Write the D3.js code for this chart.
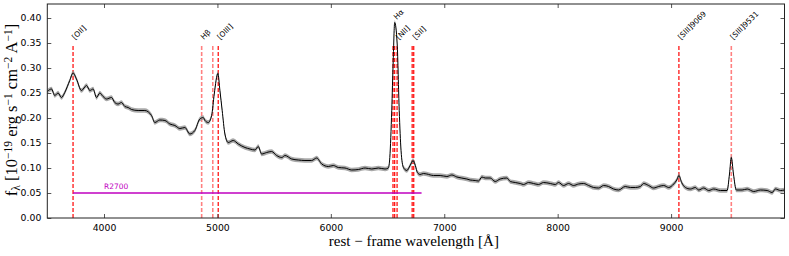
<!DOCTYPE html>
<html>
<head>
<meta charset="utf-8">
<script src="https://cdn.jsdelivr.net/npm/d3@7/dist/d3.min.js"></script>
<style>
  body { margin: 0; background: #fff; }
  .tick text { font-family: "DejaVu Sans", sans-serif; }
</style>
</head>
<body>
<svg id="chart" width="789" height="256"></svg>
<script>
// spectrum (rest-frame Angstrom, 1e-19 erg/s/cm2/A)
var wave = [3500, 3537, 3566, 3595, 3625, 3654, 3698, 3727, 3757, 3801, 3846, 3875, 3904, 3934, 3963, 3992,
	4022, 4066, 4095, 4124, 4154, 4184, 4213, 4243, 4301, 4360, 4419, 4448, 4492, 4537, 4581, 4625, 4669, 4713,
	4757, 4801, 4845, 4875, 4890, 4919, 4949, 4972, 5004, 5022, 5042, 5066, 5095, 5139, 5184, 5243, 5287, 5331,
	5360, 5390, 5434, 5478, 5522, 5567, 5596, 5655, 5713, 5772, 5831, 5875, 5920, 5978, 6022, 6066, 6125, 6184,
	6243, 6302, 6361, 6419, 6478, 6507, 6520, 6537, 6550, 6563, 6585, 6603, 6619, 6640, 6670, 6699, 6725, 6745,
	6763, 6787, 6816, 6846, 6905, 6964, 7023, 7067, 7111, 7199, 7228, 7273, 7302, 7332, 7361, 7405, 7449, 7493,
	7552, 7582, 7626, 7670, 7699, 7743, 7787, 7831, 7875, 7935, 7979, 8008, 8052, 8096, 8140, 8184, 8229, 8273,
	8317, 8361, 8405, 8449, 8493, 8537, 8596, 8641, 8685, 8729, 8758, 8802, 8846, 8890, 8935, 8979, 9023, 9050,
	9069, 9093, 9126, 9170, 9214, 9243, 9288, 9332, 9376, 9435, 9494, 9515, 9531, 9550, 9575, 9626, 9671, 9729,
	9788, 9847, 9891, 9920, 9965, 10000];
var flux = [0.253, 0.258, 0.245, 0.250, 0.241, 0.251, 0.275, 0.290, 0.278, 0.255, 0.265, 0.255, 0.258, 0.241, 0.250, 0.243,
	0.238, 0.241, 0.231, 0.228, 0.231, 0.223, 0.221, 0.217, 0.215, 0.215, 0.205, 0.191, 0.196, 0.195, 0.188, 0.185, 0.179, 0.181,
	0.168, 0.175, 0.198, 0.201, 0.195, 0.191, 0.205, 0.248, 0.289, 0.255, 0.215, 0.168, 0.151, 0.155, 0.148, 0.141, 0.138, 0.136,
	0.143, 0.128, 0.131, 0.133, 0.125, 0.121, 0.125, 0.118, 0.116, 0.115, 0.115, 0.120, 0.108, 0.103, 0.105, 0.101, 0.100, 0.096,
	0.097, 0.100, 0.098, 0.100, 0.098, 0.100, 0.121, 0.215, 0.315, 0.391, 0.348, 0.215, 0.135, 0.101, 0.095, 0.105, 0.115, 0.105,
	0.091, 0.087, 0.089, 0.088, 0.085, 0.085, 0.083, 0.086, 0.082, 0.078, 0.076, 0.075, 0.074, 0.082, 0.080, 0.080, 0.073, 0.078,
	0.080, 0.073, 0.071, 0.069, 0.067, 0.071, 0.069, 0.067, 0.071, 0.069, 0.067, 0.071, 0.065, 0.069, 0.065, 0.068, 0.069, 0.065,
	0.061, 0.060, 0.065, 0.063, 0.058, 0.056, 0.063, 0.061, 0.061, 0.063, 0.069, 0.065, 0.060, 0.063, 0.065, 0.061, 0.068, 0.076,
	0.085, 0.071, 0.061, 0.058, 0.061, 0.056, 0.060, 0.055, 0.058, 0.055, 0.055, 0.088, 0.121, 0.088, 0.056, 0.056, 0.058, 0.053,
	0.056, 0.055, 0.051, 0.058, 0.055, 0.056];
var fluxErr = 0.0045; // half width of the grey band

// emission lines (dashed markers) and their labels
var lineWaves = [3727, 4861, 4959, 5007, 6548, 6563, 6584, 6717, 6731, 9069, 9531];
var labelNames = ["[OII]", "H\u03b2", "[OIII]", "H\u03b1", "[NII]", "[SII]", "[SIII]9069", "[SIII]9531"];
var labelWaves = [3727, 4861, 5007, 6563, 6584, 6731, 9069, 9531];

// R2700 band
var bandName = "R2700";
var bandRange = [3727, 6800];
var bandLevel = 0.05;

var xTicks = [4000, 5000, 6000, 7000, 8000, 9000];
var yTicks = [0.00, 0.05, 0.10, 0.15, 0.20, 0.25, 0.30, 0.35, 0.40];

var margin = { top: 4, right: 4.5, bottom: 38, left: 47.3 };
var W = 789, H = 256;
var w = W - margin.left - margin.right,
	h = H - margin.top - margin.bottom;

var svg = d3.select('#chart');
var g = svg.append('g').attr('transform', 'translate(' + margin.left + ',' + margin.top + ')');

var x = d3.scaleLinear().domain([3500, 10000]).range([0, w]);
var y = d3.scaleLinear().domain([0, 0.428]).range([h, 0]);

var faint = { 4861: true, 4959: true, 9531: true }; // drawn paler in the original

// clip for data
svg.append('clipPath').attr('id', 'clip')
	.append('rect').attr('width', w).attr('height', h);

var pts = wave.map(function(d, i) { return { w: d, f: flux[i] }; });
var plot = g.append('g').attr('clip-path', 'url(#clip)');

// emission line markers
plot.selectAll('line.em').data(lineWaves).enter().append('line')
	.attr('class', 'em')
	.attr('x1', function(d) { return x(d); })
	.attr('x2', function(d) { return x(d); })
	.attr('y1', y(0))
	.attr('y2', y(0.347))
	.attr('stroke', function(d) { return faint[d] ? '#ff8080' : '#ff0000'; })
	.attr('stroke-width', function(d) { return faint[d] ? 1.6 : 1.2; })
	.attr('stroke-dasharray', '4,2');

// R2700 band
plot.append('line')
	.attr('x1', x(bandRange[0])).attr('x2', x(bandRange[1]))
	.attr('y1', y(bandLevel)).attr('y2', y(bandLevel))
	.attr('stroke', '#bf00bf').attr('stroke-width', 1.5);
g.append('text')
	.attr('x', x(4000)).attr('y', y(0.059))
	.attr('fill', '#bf00bf')
	.style('font-family', '"DejaVu Sans", sans-serif')
	.style('font-size', '7.5px')
	.text(bandName);

// error band + spectrum
var curve = d3.curveMonotoneX;
plot.append('path').datum(pts)
	.attr('d', d3.area().curve(curve)
		.x(function(d) { return x(d.w); })
		.y0(function(d) { return y(d.f - fluxErr); })
		.y1(function(d) { return y(d.f + fluxErr); }))
	.attr('fill', '#8c8c8c').attr('opacity', 0.75);
plot.append('path').datum(pts)
	.attr('d', d3.line().curve(curve)
		.x(function(d) { return x(d.w); })
		.y(function(d) { return y(d.f); }))
	.attr('fill', 'none').attr('stroke', '#000').attr('stroke-width', 1);

// line labels, rotated 45 degrees
g.selectAll('text.lab').data(labelNames).enter().append('text')
	.attr('class', 'lab')
	.attr('transform', function(d, i) {
		var ly = labelWaves[i] === 6563 ? 16 : 36;
		return 'translate(' + (x(labelWaves[i]) + 2) + ',' + ly + ') rotate(-45)';
	})
	.style('font-family', '"DejaVu Sans", sans-serif')
	.style('font-size', '7.5px')
	.attr('fill', '#000')
	.text(function(d) { return d; });

// axes: ticks point inwards on all four sides
function styleAxis(sel) {
	sel.selectAll('.tick line').attr('stroke', '#555');
	sel.select('.domain').remove();
	sel.selectAll('.tick text').style('font-size', '9.3px').attr('fill', '#000');
}
g.append('g').attr('transform', 'translate(0,' + h + ')')
	.call(d3.axisBottom(x).tickValues(xTicks).tickSize(-4).tickPadding(6).tickFormat(d3.format('d')))
	.call(styleAxis);
g.append('g')
	.call(d3.axisTop(x).tickValues(xTicks).tickSize(-4).tickFormat(''))
	.call(styleAxis);
g.append('g')
	.call(d3.axisLeft(y).tickValues(yTicks).tickSize(-4).tickPadding(6).tickFormat(d3.format('.2f')))
	.call(styleAxis);
g.append('g').attr('transform', 'translate(' + w + ',0)')
	.call(d3.axisRight(y).tickValues(yTicks).tickSize(-4).tickFormat(''))
	.call(styleAxis);

g.append('rect').attr('width', w).attr('height', h)
	.attr('fill', 'none').attr('stroke', '#222').attr('stroke-width', 1);

// axis titles
var serif = '"Liberation Serif", "DejaVu Serif", serif';
svg.append('text')
	.attr('x', margin.left + w / 2 - 2).attr('y', 246)
	.attr('text-anchor', 'middle')
	.style('font-family', serif).style('font-size', '15px')
	.text('rest \u2212 frame wavelength [\u00c5]');

var yt = svg.append('text')
	.attr('transform', 'translate(17,110) rotate(-90)')
	.attr('text-anchor', 'middle')
	.style('font-family', serif).style('font-size', '16.5px');
function part(t, shift, size) {
	var s = yt.append('tspan').text(t);
	if (shift) s.attr('baseline-shift', shift).style('font-size', size);
}
part('f');
part('\u03bb', '-25%', '11.5px');
part(' [10');
part('\u221219', '40%', '11.5px');
part(' erg s');
part('\u22121', '40%', '11.5px');
part(' cm');
part('\u22122', '40%', '11.5px');
part(' A');
part('\u22121', '40%', '11.5px');
part(']');
</script>
</body>
</html>
